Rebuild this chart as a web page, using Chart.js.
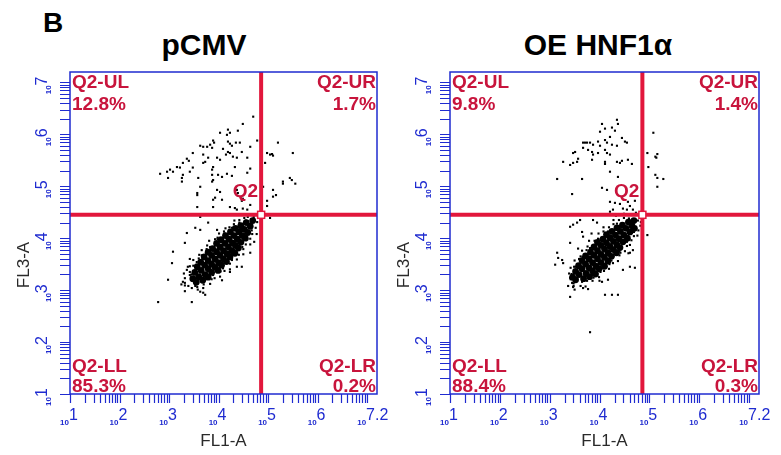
<!DOCTYPE html>
<html>
<head>
<meta charset="utf-8">
<script src="https://cdn.jsdelivr.net/npm/chart.js@4.4.1/dist/chart.umd.min.js"></script>
<style>
  body { margin: 0; background: #fff; width: 781px; height: 455px; position: relative; overflow: hidden;
         font-family: 'Liberation Sans', Arial, sans-serif; }
  .panel { position: absolute; top: 0; height: 455px; }
  .title { position: absolute; top: 30px; font-size: 30px; line-height: 30px; font-weight: bold; color: #000; text-align: center; white-space: nowrap; }
  #letter { position: absolute; left: 43px; top: 9px; font-size: 28px; line-height: 28px; font-weight: bold; }
</style>
</head>
<body>
<div id="letter">B</div>
<div class="title" style="left:104px;width:200px">pCMV</div>
<div class="title" style="left:498px;width:200px">OE HNF1α</div>
<div class="panel" style="left:0;width:390px"><canvas id="pcmv" width="390" height="455"></canvas></div>
<div class="panel" style="left:390px;width:391px"><canvas id="hnf" width="391" height="455"></canvas></div>
<script>
// axes are log10 decades (10^1 .. 10^7.2)
const axisMin = 1;
const axisMax = 7.2;
const fl1Decades = [1, 2, 3, 4, 5, 6, 7];
const fl1TickLabels = ['1', '2', '3', '4', '5', '6', '7.2'];
const fl3Decades = [1, 2, 3, 4, 5, 6, 7];
const fl3TickLabels = ['1', '2', '3', '4', '5', '6', '7'];
const gateFL1 = 4.86;
const gateFL3 = 4.45;
const quadrantNames = ['Q2-UL', 'Q2-UR', 'Q2-LL', 'Q2-LR'];
const pcmvPercents = ['12.8%', '1.7%', '85.3%', '0.2%'];
const hnfPercents = ['9.8%', '1.4%', '88.4%', '0.3%'];

// pCMV: dense population (log FL1, log FL3)
const pcmvCore = [
  [3.48,3.22],[3.55,3.15],[3.52,3.34],[3.60,3.26],[3.68,3.19],[3.57,3.45],[3.65,3.38],[3.73,3.30],[3.79,3.25],
  [3.64,3.54],[3.72,3.48],[3.79,3.41],[3.86,3.34],[3.71,3.64],[3.79,3.57],[3.86,3.50],[3.93,3.44],[3.99,3.38],
  [3.79,3.73],[3.86,3.67],[3.93,3.60],[4.00,3.53],[4.06,3.48],[3.88,3.80],[3.96,3.74],[4.03,3.67],[4.10,3.60],[4.16,3.55],
  [3.96,3.90],[4.03,3.83],[4.10,3.76],[4.17,3.70],[4.23,3.64],[4.05,3.97],[4.13,3.90],[4.20,3.83],[4.27,3.76],[4.33,3.71],
  [4.14,4.05],[4.21,3.98],[4.28,3.91],[4.34,3.86],[4.40,3.81],[4.24,4.12],[4.31,4.05],[4.38,3.98],[4.45,3.92],
  [4.34,4.19],[4.41,4.12],[4.48,4.05],[4.54,4.00],[4.45,4.24],[4.52,4.17],[4.59,4.11],[4.56,4.30],[4.64,4.23],[4.69,4.34]
];
// pCMV: single events
const pcmvEvents = [
  [3.32,3.09],[3.46,3.04],[3.32,3.23],[3.58,3.01],[3.30,3.32],[3.69,3.04],[3.42,3.35],[3.70,3.11],[3.42,3.46],[3.83,3.12],
  [3.49,3.47],[3.86,3.21],[3.49,3.58],[3.92,3.23],[3.60,3.61],[4.03,3.26],[3.61,3.68],[4.04,3.36],[3.66,3.77],[4.12,3.37],
  [3.76,3.79],[4.23,3.40],[3.77,3.86],[4.23,3.51],[3.81,3.95],[4.27,3.58],[3.93,3.98],[4.37,3.59],[3.98,4.01],[4.41,3.68],
  [4.01,4.09],[4.50,3.69],[4.11,4.13],[4.50,3.79],[4.14,4.19],[4.55,3.88],[4.22,4.21],[4.64,3.88],[4.31,4.27],[4.64,3.99],
  [4.32,4.34],[4.68,4.08],[4.42,4.35],[4.77,4.08],[4.52,4.39],[4.75,4.20],[4.59,4.41],[4.78,4.31],[4.71,4.41],[3.32,2.98],
  [3.25,3.11],[4.07,3.19],[4.37,3.45],[3.97,4.16],[3.42,3.60],[4.72,3.93],
  [3.53,3.08],[3.45,3.30],[3.68,3.16],[3.56,3.54],[3.89,3.29],[3.66,3.67],[4.09,3.42],[3.83,3.83],[4.27,3.63],[3.98,3.98],
  [4.37,3.70],[4.12,4.09],[4.48,3.83],[4.27,4.20],[4.58,3.98],[4.42,4.30],[4.67,4.15],[4.55,4.34],[3.39,3.08],
  [4.70,6.34],[4.49,6.20],[4.19,6.09],[4.23,6.03],[4.03,6.03],[4.17,5.99],[4.39,6.07],[3.89,5.88],[3.91,5.84],
  [3.63,5.78],[3.69,5.76],[3.77,5.76],[3.83,5.80],[3.87,5.74],[4.19,5.86],[4.23,5.82],[4.27,5.78],[4.43,5.84],[4.35,5.84],
  [4.09,5.72],[4.19,5.66],[4.23,5.64],[4.15,5.61],[4.47,5.66],[4.64,5.76],[4.78,5.88],[5.20,5.84],[5.50,5.64],
  [4.98,5.64],[5.08,5.62],[5.10,5.59],[3.48,5.64],[3.36,5.53],[3.40,5.49],[3.28,5.45],[3.69,5.61],[3.79,5.55],
  [3.73,5.47],[3.69,5.45],[4.29,5.57],[4.37,5.55],[4.58,5.55],[3.97,5.55],[4.03,5.51],[4.94,5.45],
  [3.16,5.37],[3.22,5.36],[3.02,5.32],[2.96,5.28],[3.48,5.36],[3.42,5.28],[3.89,5.37],[3.87,5.32],[4.33,5.37],
  [2.82,5.24],[3.28,5.22],[3.26,5.16],[3.87,5.22],[3.99,5.22],[4.07,5.18],[3.89,5.12],[3.87,5.09],[4.17,5.24],[4.27,5.20],
  [4.64,5.34],[4.58,5.26],[5.30,5.09],[5.30,5.05],[5.44,5.16],[5.55,5.05],[3.59,5.16],[3.63,4.99],[3.97,4.93],[4.03,4.89],
  [4.37,4.93],[4.39,4.87],[5.10,4.93],[5.16,4.83],[4.90,4.99],[3.57,4.83],[3.93,4.78],[4.07,4.74],[4.47,4.72],[4.49,4.76],
  [5.10,4.80],[4.98,4.72],[3.57,4.60],[3.89,4.60],[4.23,4.60],[4.33,4.58],[4.49,4.57],[4.58,4.55],[4.37,4.55],[4.64,4.64],
  [4.98,4.62],[2.98,5.16],[3.08,5.28],[3.26,5.09],[3.57,4.87],[3.89,4.74],[5.48,5.12],[5.04,5.61],
  [2.78,2.77],[3.46,2.77],[2.98,3.20],[3.06,3.52],[3.08,3.74],[3.32,3.91],[3.36,4.10],[3.53,4.20],[3.63,4.16],[3.79,4.30],
  [3.63,4.41],[4.23,3.35],[4.47,3.45],[4.64,3.72],[3.28,3.16],[3.32,3.14],[3.57,3.06],[3.63,2.97],[3.69,2.95],[3.42,3.29],
  [3.48,3.20],[3.38,3.45],[3.36,3.39],[3.73,2.91],[5.04,4.39]
];

// OE HNF1a: dense population
const hnfCore = [
  [3.52,3.20],[3.46,3.25],[3.52,3.36],[3.59,3.30],[3.68,3.22],[3.58,3.47],[3.65,3.41],[3.73,3.32],[3.80,3.26],
  [3.65,3.57],[3.72,3.50],[3.79,3.43],[3.86,3.37],[3.92,3.31],[3.72,3.66],[3.79,3.60],[3.86,3.53],[3.93,3.46],[3.99,3.41],
  [3.82,3.73],[3.89,3.67],[3.96,3.60],[4.03,3.53],[4.10,3.46],[3.89,3.83],[3.96,3.76],[4.03,3.69],[4.10,3.63],[4.17,3.56],
  [3.96,3.92],[4.03,3.86],[4.10,3.79],[4.17,3.72],[4.24,3.65],[4.07,3.98],[4.14,3.91],[4.21,3.84],[4.28,3.78],[4.34,3.72],
  [4.14,4.07],[4.21,4.01],[4.28,3.94],[4.35,3.87],[4.41,3.82],[4.25,4.13],[4.32,4.06],[4.39,3.99],[4.47,3.93],
  [4.35,4.20],[4.42,4.13],[4.49,4.06],[4.56,4.00],[4.46,4.25],[4.53,4.19],[4.61,4.12],[4.58,4.31],[4.65,4.24],[4.70,4.19],[4.69,4.34]
];
// OE HNF1a: single events
const hnfEvents = [
  [3.48,3.08],[3.42,3.21],[3.62,3.08],[3.39,3.32],[3.72,3.07],[3.42,3.43],[3.75,3.18],[3.49,3.45],[3.86,3.18],[3.50,3.57],
  [3.88,3.24],[3.59,3.60],[3.99,3.25],[3.62,3.65],[4.02,3.35],[3.65,3.76],[4.09,3.37],[3.74,3.77],[4.19,3.41],[3.76,3.84],
  [4.20,3.50],[3.79,3.95],[4.27,3.52],[3.90,3.95],[4.37,3.56],[3.97,3.99],[4.40,3.67],[3.98,4.09],[4.42,3.72],[4.08,4.13],
  [4.51,3.75],[4.08,4.21],[4.55,3.85],[4.19,4.21],[4.61,3.87],[4.28,4.27],[4.64,3.96],[4.28,4.35],[4.69,4.04],[4.39,4.35],
  [4.76,4.05],[4.49,4.39],[4.78,4.15],[4.49,4.47],[4.82,4.24],[4.62,4.46],[4.83,4.31],[4.73,4.49],[4.83,4.42],[3.37,3.08],
  [3.50,3.01],[3.57,3.80],[3.84,4.09],[4.58,3.71],[4.00,3.18],[4.33,4.43],
  [3.44,3.31],[3.65,3.16],[3.52,3.45],[3.86,3.29],[3.66,3.64],[4.06,3.42],[3.81,3.81],[4.24,3.57],[3.98,3.98],[4.40,3.75],
  [4.17,4.13],[4.55,3.93],[4.35,4.28],[4.69,4.12],[4.59,4.38],[3.48,3.13],[4.77,4.34],
  [4.35,6.28],[4.37,6.20],[4.05,6.20],[4.25,6.13],[4.31,6.07],[4.11,6.11],[4.01,6.05],[4.21,5.95],[5.08,6.03],
  [4.11,5.89],[4.15,5.84],[3.67,5.84],[3.75,5.84],[3.81,5.84],[3.87,5.80],[3.71,5.84],[3.97,5.86],[4.01,5.78],
  [4.25,5.80],[4.35,5.78],[4.51,5.86],[4.55,5.84],[4.45,5.93],[3.67,5.74],[3.77,5.70],[3.51,5.66],[3.47,5.64],
  [3.85,5.66],[3.87,5.61],[3.97,5.64],[4.11,5.70],[4.15,5.64],[4.21,5.61],[4.96,5.64],[5.16,5.62],[5.14,5.55],[5.12,5.57],
  [3.57,5.53],[3.55,5.47],[3.47,5.45],[3.41,5.41],[3.27,5.47],[3.85,5.51],[4.11,5.47],[4.11,5.43],[4.35,5.47],
  [4.41,5.45],[4.45,5.49],[4.57,5.51],[4.65,5.43],[4.98,5.37],[4.21,5.28],[4.37,5.18],[3.15,5.14],[3.65,5.14],
  [5.12,5.22],[5.16,5.16],[5.28,5.14],[4.05,4.97],[4.15,4.93],[3.45,4.85],[5.16,4.99],[4.21,4.70],[4.31,4.68],
  [4.41,4.66],[4.57,4.70],[4.71,4.72],[4.47,4.57],[4.55,4.55],[4.27,4.55],[4.21,4.51],[4.67,4.55],[4.61,4.62],
  [3.41,4.22],[3.47,4.26],[3.55,4.30],[3.15,3.72],[3.11,3.49],[3.17,3.62],[3.25,3.58],[3.27,3.52],[3.41,3.91],
  [3.65,4.12],[3.67,4.03],[3.87,4.35],[3.95,4.30],[3.61,4.35],[3.41,3.24],[3.45,3.14],[3.47,3.06],[3.67,3.04],
  [3.77,3.02],[4.05,3.16],[4.17,3.20],[4.11,2.91],[4.25,2.91],[4.37,2.91],[3.41,2.87],[4.47,3.39],[4.61,3.45],
  [4.71,3.43],[4.61,3.72],[4.67,3.77],[4.96,4.06],[3.81,2.19]
];

const blue = '#1f2bd0';
const gateRed = '#e2173c';
const textRed = '#c8143c';

// axes, ticks, quadrant gates and labels
const flowAxes = {
  id: 'flowAxes',
  afterDatasetsDraw(chart, args, opts) {
    const { ctx, chartArea: a, scales: { x, y } } = chart;
    ctx.save();

    // quadrant gate lines
    const gx = x.getPixelForValue(gateFL1);
    const gy = y.getPixelForValue(gateFL3);
    ctx.strokeStyle = gateRed;
    ctx.lineWidth = 4;
    ctx.beginPath();
    ctx.moveTo(gx, a.top); ctx.lineTo(gx, a.bottom);
    ctx.moveTo(a.left, gy); ctx.lineTo(a.right, gy);
    ctx.stroke();
    ctx.fillStyle = '#fff';
    ctx.lineWidth = 1.5;
    ctx.fillRect(gx - 3.5, gy - 3.5, 7, 7);
    ctx.strokeRect(gx - 3.5, gy - 3.5, 7, 7);

    // frame + ticks
    ctx.strokeStyle = blue;
    ctx.lineWidth = 1.5;
    ctx.strokeRect(a.left, a.top, a.right - a.left, a.bottom - a.top);
    ctx.lineWidth = 1.2;
    ctx.beginPath();
    for (let d = 1; d <= 7; d++) {
      for (let k = 1; k <= 9; k++) {
        const v = d + Math.log10(k);
        if (v > axisMax + 1e-9) continue;
        const px = Math.round(x.getPixelForValue(v)) + 0.5;
        ctx.moveTo(px, a.bottom); ctx.lineTo(px, a.bottom + 9);
        const py = Math.round(y.getPixelForValue(v)) + 0.5;
        ctx.moveTo(a.left - 10, py); ctx.lineTo(a.left, py);
      }
    }
    ctx.stroke();

    // tick labels 10^n
    ctx.fillStyle = blue;
    fl1Decades.forEach((d, i) => {
      const px = x.getPixelForValue(d);
      ctx.textAlign = 'right';
      ctx.font = 'bold 8px Liberation Sans';
      ctx.fillText('10', px - 1, a.bottom + 31);
      ctx.textAlign = 'left';
      ctx.font = '16px Liberation Sans';
      ctx.fillText(fl1TickLabels[i], px - 1, a.bottom + 26);
    });
    fl3Decades.forEach((d, i) => {
      const py = y.getPixelForValue(d);
      ctx.save();
      ctx.translate(a.left - 19, py + 3);
      ctx.rotate(-Math.PI / 2);
      ctx.textAlign = 'right';
      ctx.font = 'bold 8px Liberation Sans';
      ctx.fillText('10', 0, 0);
      ctx.textAlign = 'left';
      ctx.font = '16px Liberation Sans';
      ctx.fillText(fl3TickLabels[i], 0, -4);
      ctx.restore();
    });

    // axis titles
    ctx.fillStyle = '#2a2a2a';
    ctx.font = '17px Liberation Sans';
    ctx.textAlign = 'center';
    ctx.fillText('FL1-A', (a.left + a.right) / 2, a.bottom + 52);
    ctx.save();
    ctx.translate(a.left - 41, a.top + 193);
    ctx.rotate(-Math.PI / 2);
    ctx.fillText('FL3-A', 0, 0);
    ctx.restore();

    // quadrant labels
    const pct = opts.percents;
    ctx.fillStyle = textRed;
    ctx.font = 'bold 19px Liberation Sans';
    ctx.textAlign = 'left';
    ctx.fillText(quadrantNames[0], a.left + 2, a.top + 16);
    ctx.fillText(pct[0], a.left + 2, a.top + 38);
    ctx.fillText(quadrantNames[2], a.left + 2, a.bottom - 22);
    ctx.fillText(pct[2], a.left + 2, a.bottom - 2);
    ctx.textAlign = 'right';
    ctx.fillText(quadrantNames[1], a.right - 1, a.top + 16);
    ctx.fillText(pct[1], a.right - 1, a.top + 38);
    ctx.fillText(quadrantNames[3], a.right - 1, a.bottom - 22);
    ctx.fillText(pct[3], a.right - 1, a.bottom - 2);
    ctx.fillText('Q2', gx - 3, gy - 18);

    ctx.restore();
  }
};

function toPoints(list) {
  return list.map(p => ({ x: p[0], y: p[1] }));
}

function makeFlowChart(id, core, events, percents, pad) {
  return new Chart(document.getElementById(id).getContext('2d'), {
    type: 'scatter',
    data: {
      datasets: [{
        data: toPoints(core),
        backgroundColor: '#000',
        pointRadius: 3.4,
        pointBorderWidth: 0
      }, {
        data: toPoints(events),
        backgroundColor: '#000',
        pointStyle: 'rect',
        pointRadius: 1.5,
        pointBorderWidth: 0
      }]
    },
    options: {
      responsive: false,
      animation: false,
      layout: { padding: pad },
      plugins: {
        legend: { display: false },
        tooltip: { enabled: false },
        flowAxes: { percents: percents }
      },
      scales: {
        x: { type: 'linear', min: axisMin, max: axisMax, display: false },
        y: { type: 'linear', min: axisMin, max: axisMax, display: false }
      }
    },
    plugins: [flowAxes]
  });
}

makeFlowChart('pcmv', pcmvCore, pcmvEvents, pcmvPercents, { left: 70, top: 72, right: 13, bottom: 61 });
makeFlowChart('hnf', hnfCore, hnfEvents, hnfPercents, { left: 60, top: 72, right: 22, bottom: 61 });
</script>
</body>
</html>
